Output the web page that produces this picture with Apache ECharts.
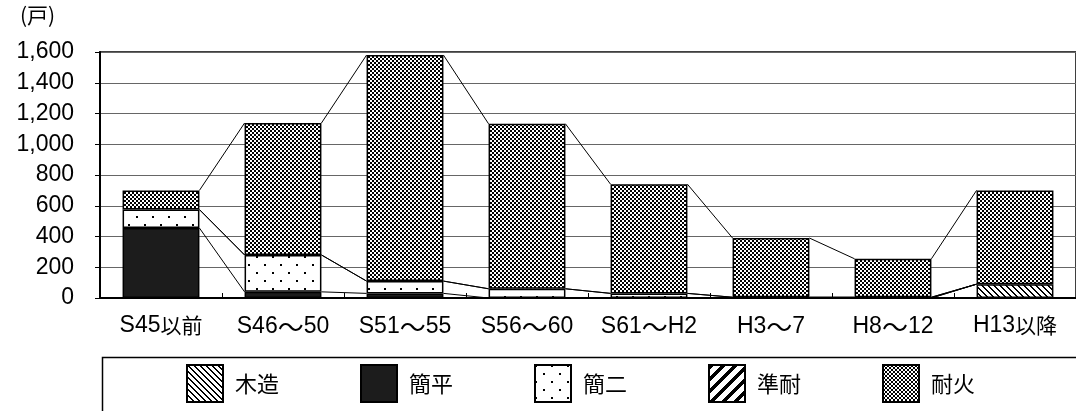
<!DOCTYPE html>
<html>
<head>
<meta charset="utf-8">
<script src="https://cdn.jsdelivr.net/npm/echarts@6/dist/echarts.min.js"></script>
<style>
  html, body { margin: 0; padding: 0; background: #fff; }
  #chart { width: 1076px; height: 411px; }
</style>
</head>
<body>
<div id="chart"></div>
<script>
// 建設年度別・構造別の戸数
const categories = ['S45以前', 'S46～50', 'S51～55', 'S56～60', 'S61～H2', 'H3～7', 'H8～12', 'H13以降'];
const seriesNames = ['木造', '簡平', '簡二', '準耐', '耐火'];
const mokuzo   = [0, 0, 0, 0, 0, 0, 0, 90];
const kanpei   = [455, 40, 30, 0, 0, 0, 0, 0];
const kanni    = [120, 240, 80, 60, 30, 5, 5, 0];
const juntai   = [0, 0, 0, 0, 0, 0, 0, 0];
const taika    = [125, 858, 1470, 1073, 710, 385, 250, 610];
const yTicks   = [0, 200, 400, 600, 800, 1000, 1200, 1400, 1600];

const valueSets = [mokuzo, kanpei, kanni, juntai, taika];
const BAR_RATIO = 0.63;

// ハッチング用のパターンを作る
function makePattern(size, painter) {
  const c = document.createElement('canvas');
  c.width = size; c.height = size;
  const ctx = c.getContext('2d');
  ctx.fillStyle = '#fff';
  ctx.fillRect(0, 0, size, size);
  ctx.fillStyle = '#000';
  for (let y = 0; y < size; y++) {
    for (let x = 0; x < size; x++) {
      if (painter(x, y)) ctx.fillRect(x, y, 1, 1);
    }
  }
  return { image: c, repeat: 'repeat' };
}
const patterns = [
  makePattern(6, (x, y) => ((x - y + 60) % 6) < 1.5),            // 木造: 細い斜線
  '#1c1c1c',                                                     // 簡平: 塗りつぶし
  makePattern(16, (x, y) => (x < 2 && y < 2) || (x >= 8 && x < 10 && y >= 8 && y < 10)), // 簡二: 点
  makePattern(12, (x, y) => ((x + y) % 12) < 5),                 // 準耐: 太い斜線
  makePattern(4, (x, y) => ((x < 2) === (y < 2)))                 // 耐火: 市松
];

// 系列線用の累積値
const cumulative = [];
let running = categories.map(() => 0);
valueSets.forEach(vals => {
  running = running.map((r, i) => r + vals[i]);
  cumulative.push(running.slice());
});

const series = seriesNames.map((name, s) => ({
  name: name,
  type: 'bar',
  stack: 'total',
  barWidth: (BAR_RATIO * 100) + '%',
  data: valueSets[s].map(v => (v === 0 ? '-' : v)),
  itemStyle: { color: patterns[s], borderColor: '#000', borderWidth: 1.5 },
  emphasis: { disabled: true },
  z: 3
}));

const lineData = [];
cumulative.forEach(cum => {
  for (let i = 0; i < categories.length - 1; i++) lineData.push([i, cum[i], cum[i + 1]]);
});
series.push({
  type: 'custom',
  name: 'seriesLines',
  data: lineData,
  z: 2,
  silent: true,
  renderItem: function (params, api) {
    const i = api.value(0);
    const p0 = api.coord([i, api.value(1)]);
    const p1 = api.coord([i + 1, api.value(2)]);
    const half = api.size([1, 0])[0] * BAR_RATIO / 2;
    return {
      type: 'line',
      shape: { x1: p0[0] + half, y1: p0[1], x2: p1[0] - half, y2: p1[1] },
      style: { stroke: '#000', lineWidth: 1 }
    };
  }
});

const LATIN = '"Liberation Sans", "Noto Sans CJK JP", sans-serif';
const CJK = '"Noto Sans CJK JP", sans-serif';

// 英数字と漢字で書体・大きさを分けたラベル
function richLabel(text) {
  let out = '';
  let cur = '', curStyle = null;
  for (const ch of text) {
    const st = ch === '～' ? 'w' : (/[\u3000-\u9fff]/.test(ch) ? 'c' : 'a');
    if (st !== curStyle && cur) { out += '{' + curStyle + '|' + cur + '}'; cur = ''; }
    curStyle = st; cur += ch;
  }
  if (cur) out += '{' + curStyle + '|' + cur + '}';
  return out;
}

const chart = echarts.init(document.getElementById('chart'), null, { renderer: 'canvas' });
chart.setOption({
  animation: false,
  backgroundColor: '#fff',
  textStyle: { fontFamily: LATIN },
  grid: { left: 100, right: -10, top: 52, bottom: 113, show: true, borderColor: '#000', borderWidth: 1.5, backgroundColor: 'transparent' },
  xAxis: {
    type: 'category',
    data: categories,
    axisLine: { lineStyle: { color: '#000', width: 2 } },
    axisTick: { show: true, inside: true, length: 5, lineStyle: { color: '#000' } },
    axisLabel: {
      color: '#000', margin: 16, interval: 0, hideOverlap: false,
      formatter: v => richLabel(v),
      rich: {
        a: { fontSize: 23, fontFamily: LATIN, color: '#000' },
        c: { fontSize: 21, fontFamily: CJK, color: '#000' },
        w: { fontSize: 26, fontFamily: CJK, color: '#000' }
      }
    }
  },
  yAxis: {
    type: 'value',
    min: yTicks[0],
    max: yTicks[yTicks.length - 1],
    interval: yTicks[1] - yTicks[0],
    axisLine: { show: true, lineStyle: { color: '#000', width: 2 } },
    axisTick: { show: true, length: 5, lineStyle: { color: '#000' } },
    axisLabel: { color: '#000', fontSize: 23, margin: 26, fontFamily: LATIN,
      formatter: v => v.toLocaleString('en-US') },
    splitLine: { lineStyle: { color: '#666', width: 1 } }
  },
  legend: {
    data: seriesNames,
    left: 186,
    top: 364,
    padding: 0,
    icon: 'rect',
    itemWidth: 36,
    itemHeight: 37,
    itemGap: 81,
    selectedMode: false,
    textStyle: { color: '#000', fontSize: 22, padding: [0, 0, 0, 7], fontFamily: CJK }
  },
  graphic: [
    { type: 'rect', left: 100, top: 355, shape: { width: 1000, height: 80 },
      style: { fill: 'none', stroke: '#000', lineWidth: 1.5 }, silent: true },
    { type: 'text', left: 20, top: 5, style: { text: '(戸)', fill: '#000', fontSize: 21, fontFamily: CJK } }
  ],
  series: series
});
</script>
</body>
</html>
